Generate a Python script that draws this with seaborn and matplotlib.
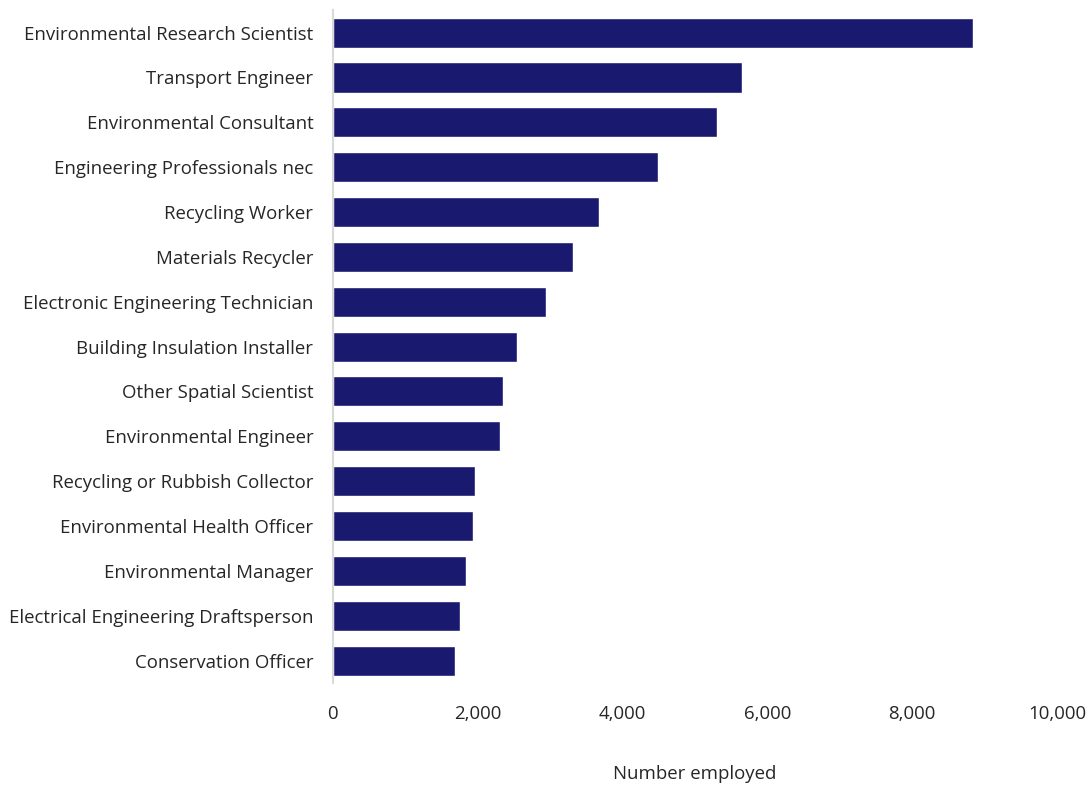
import matplotlib
matplotlib.use("Agg")
import matplotlib.pyplot as plt
import seaborn as sns
import pandas as pd
from matplotlib.ticker import FuncFormatter

occupations = [
    "Environmental Research Scientist",
    "Transport Engineer",
    "Environmental Consultant",
    "Engineering Professionals nec",
    "Recycling Worker",
    "Materials Recycler",
    "Electronic Engineering Technician",
    "Building Insulation Installer",
    "Other Spatial Scientist",
    "Environmental Engineer",
    "Recycling or Rubbish Collector",
    "Environmental Health Officer",
    "Environmental Manager",
    "Electrical Engineering Draftsperson",
    "Conservation Officer",
]
employed = [8840, 5650, 5300, 4490, 3680, 3310, 2950, 2550, 2350, 2310,
            1970, 1940, 1840, 1750, 1690]
x_ticks = [0, 2000, 4000, 6000, 8000, 10000]

df = pd.DataFrame({"Occupation": occupations, "Employed": employed})

sns.set_theme(style="white")
plt.rcParams["font.family"] = ["Open Sans", "DejaVu Sans"]

fig = plt.figure(figsize=(10.91, 7.85), dpi=100)
ax = fig.add_axes([0.305, 0.130, 0.664, 0.857])

sns.barplot(data=df, x="Employed", y="Occupation", color="#191970",
            saturation=1, width=0.67, ax=ax)

ax.set_xlim(0, 10000)
ax.set_xticks(x_ticks)
ax.xaxis.set_major_formatter(FuncFormatter(lambda v, p: f"{int(v):,}"))
ax.tick_params(axis="x", length=0, pad=16, labelsize=13.4, labelcolor="#262626")
ax.tick_params(axis="y", length=0, pad=14, labelsize=13.4, labelcolor="#262626")
ax.set_ylabel("")
ax.set_xlabel("Number employed", fontsize=13.4, color="#262626", labelpad=30)

for side in ["top", "right", "bottom"]:
    ax.spines[side].set_visible(False)
ax.spines["left"].set_color("#d9d9d9")
ax.spines["left"].set_linewidth(1.5)
ax.grid(False)

fig.savefig("out.png", dpi=100)
